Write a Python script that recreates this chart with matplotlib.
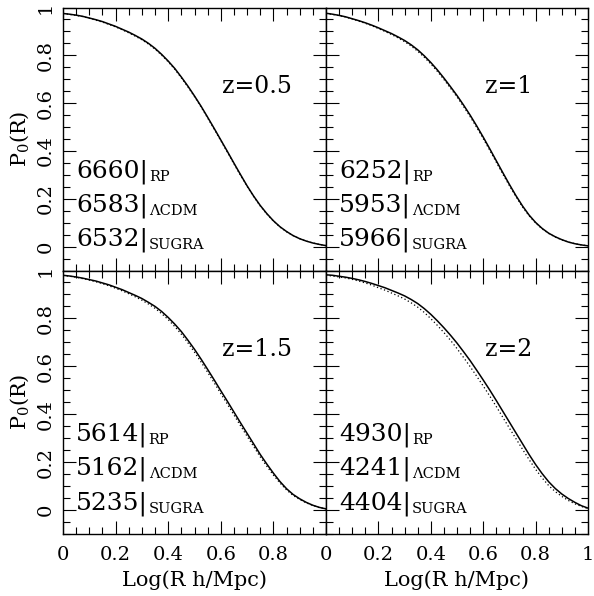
import matplotlib
matplotlib.use('Agg')
import matplotlib.pyplot as plt
from matplotlib.ticker import MultipleLocator, FixedLocator

plt.rcParams['font.family'] = 'DejaVu Serif'
plt.rcParams['mathtext.default'] = 'regular'

# void probability P0(R) against log radius, sampled every 0.025
logR = [0.000, 0.025, 0.050, 0.075, 0.100, 0.125, 0.150, 0.175, 0.200, 0.225,
        0.250, 0.275, 0.300, 0.325, 0.350, 0.375, 0.400, 0.425, 0.450, 0.475,
        0.500, 0.525, 0.550, 0.575, 0.600, 0.625, 0.650, 0.675, 0.700, 0.725,
        0.750, 0.775, 0.800, 0.825, 0.850, 0.875, 0.900, 0.925, 0.950, 0.975,
        1.000]

rp_z05 = [0.975, 0.972, 0.968, 0.963, 0.956, 0.949, 0.941, 0.931, 0.921, 0.909,
          0.897, 0.883, 0.868, 0.850, 0.829, 0.804, 0.776, 0.745, 0.709, 0.671,
          0.630, 0.587, 0.541, 0.494, 0.446, 0.398, 0.349, 0.301, 0.254, 0.211,
          0.172, 0.138, 0.108, 0.083, 0.063, 0.046, 0.033, 0.023, 0.015, 0.009,
          0.004]
lcdm_z05 = [0.975, 0.971, 0.967, 0.962, 0.955, 0.947, 0.939, 0.929, 0.919, 0.907,
            0.894, 0.880, 0.865, 0.847, 0.826, 0.801, 0.773, 0.742, 0.706, 0.668,
            0.627, 0.584, 0.538, 0.491, 0.443, 0.395, 0.346, 0.298, 0.252, 0.209,
            0.170, 0.136, 0.107, 0.082, 0.062, 0.046, 0.033, 0.023, 0.015, 0.009,
            0.004]

rp_z1 = [0.976, 0.972, 0.967, 0.961, 0.953, 0.945, 0.936, 0.926, 0.915, 0.903,
         0.891, 0.877, 0.862, 0.844, 0.823, 0.798, 0.770, 0.739, 0.705, 0.669,
         0.632, 0.592, 0.550, 0.505, 0.458, 0.409, 0.359, 0.309, 0.260, 0.213,
         0.170, 0.132, 0.101, 0.076, 0.056, 0.041, 0.029, 0.019, 0.012, 0.007,
         0.003]
lcdm_z1 = [0.975, 0.971, 0.966, 0.960, 0.952, 0.943, 0.934, 0.924, 0.912, 0.900,
           0.887, 0.873, 0.857, 0.839, 0.817, 0.792, 0.764, 0.733, 0.699, 0.663,
           0.626, 0.586, 0.544, 0.499, 0.452, 0.403, 0.353, 0.303, 0.255, 0.209,
           0.166, 0.129, 0.099, 0.074, 0.055, 0.040, 0.028, 0.019, 0.012, 0.007,
           0.003]

rp_z15 = [0.980, 0.977, 0.973, 0.968, 0.962, 0.956, 0.948, 0.940, 0.930, 0.920,
          0.908, 0.896, 0.883, 0.867, 0.850, 0.829, 0.804, 0.776, 0.745, 0.709,
          0.671, 0.630, 0.587, 0.543, 0.498, 0.454, 0.409, 0.364, 0.320, 0.276,
          0.232, 0.192, 0.154, 0.119, 0.089, 0.065, 0.047, 0.032, 0.020, 0.011,
          0.005]
lcdm_z15 = [0.979, 0.976, 0.972, 0.966, 0.960, 0.953, 0.945, 0.936, 0.926, 0.915,
            0.903, 0.890, 0.876, 0.860, 0.842, 0.820, 0.795, 0.766, 0.734, 0.698,
            0.659, 0.618, 0.575, 0.531, 0.486, 0.442, 0.397, 0.352, 0.308, 0.265,
            0.222, 0.183, 0.146, 0.113, 0.084, 0.061, 0.044, 0.030, 0.019, 0.010,
            0.005]

rp_z2 = [0.982, 0.980, 0.976, 0.972, 0.967, 0.961, 0.954, 0.946, 0.937, 0.928,
         0.917, 0.906, 0.894, 0.879, 0.862, 0.841, 0.817, 0.790, 0.761, 0.730,
         0.697, 0.661, 0.624, 0.584, 0.543, 0.501, 0.457, 0.412, 0.367, 0.322,
         0.277, 0.232, 0.190, 0.152, 0.118, 0.090, 0.067, 0.048, 0.032, 0.018,
         0.008]
lcdm_z2 = [0.980, 0.977, 0.973, 0.969, 0.963, 0.956, 0.948, 0.939, 0.928, 0.918,
           0.906, 0.894, 0.881, 0.865, 0.847, 0.825, 0.799, 0.771, 0.741, 0.709,
           0.674, 0.637, 0.599, 0.559, 0.518, 0.476, 0.432, 0.387, 0.342, 0.298,
           0.254, 0.211, 0.170, 0.134, 0.102, 0.077, 0.057, 0.040, 0.026, 0.015,
           0.006]

z_labels = ['z=0.5', 'z=1', 'z=1.5', 'z=2']
n_rp = [6660, 6252, 5614, 4930]
n_lcdm = [6583, 5953, 5162, 4241]
n_sugra = [6532, 5966, 5235, 4404]
model_names = ['RP', 'ΛCDM', 'SUGRA']

rp_curves = [rp_z05, rp_z1, rp_z15, rp_z2]
lcdm_curves = [lcdm_z05, lcdm_z1, lcdm_z15, lcdm_z2]

fig = plt.figure(figsize=(5.94, 5.96), dpi=100)

W, H = 594.0, 596.0
x0, xm, x1 = 63 / W, 326 / W, 588 / W
y_top, y_mid, y_bot = 1 - 7.5 / H, 1 - 270.5 / H, 1 - 534 / H
boxes = [
    [x0, y_mid, xm - x0, y_top - y_mid],
    [xm, y_mid, x1 - xm, y_top - y_mid],
    [x0, y_bot, xm - x0, y_mid - y_bot],
    [xm, y_bot, x1 - xm, y_mid - y_bot],
]

for i, box in enumerate(boxes):
    ax = fig.add_axes(box)
    ax.plot(logR, rp_curves[i], color='black', lw=1.1)
    ax.plot(logR, lcdm_curves[i], color='black', lw=0.9, linestyle=(0, (1, 2)))
    ax.set_xlim(0, 1)
    ax.set_ylim(-0.1, 1.0)

    ax.xaxis.set_minor_locator(MultipleLocator(0.05))
    ax.yaxis.set_minor_locator(MultipleLocator(0.05))
    ax.yaxis.set_major_locator(FixedLocator([0, 0.2, 0.4, 0.6, 0.8, 1.0]))
    if i % 2 == 0:
        ax.xaxis.set_major_locator(FixedLocator([0, 0.2, 0.4, 0.6, 0.8]))
    else:
        ax.xaxis.set_major_locator(FixedLocator([0, 0.2, 0.4, 0.6, 0.8, 1.0]))
    ax.tick_params(which='both', direction='in', top=True, right=True,
                   width=0.8, color='black')
    ax.tick_params(which='major', length=9.5)
    ax.tick_params(which='minor', length=5)
    ax.tick_params(axis='x', labelsize=14, pad=9)
    ax.tick_params(axis='y', labelsize=14, pad=6, labelrotation=90)
    for lbl in ax.get_yticklabels():
        lbl.set_va('center')
    ax.xaxis.set_major_formatter(plt.FuncFormatter(lambda v, p: '%g' % v))
    ax.yaxis.set_major_formatter(plt.FuncFormatter(lambda v, p: '%g' % v))
    for sp in ax.spines.values():
        sp.set_linewidth(1.0)

    if i < 2:
        ax.set_xticklabels([])
    else:
        ax.set_xlabel('Log(R h/Mpc)', fontsize=15, labelpad=4)
    if i % 2 == 1:
        ax.set_yticklabels([])
    else:
        ax.set_ylabel('P$_0$(R)', fontsize=15, labelpad=4)

    ax.text(0.605, 0.67, z_labels[i], fontsize=17, ha='left', va='center')

    # cluster counts per model, with the model name as a subscript
    counts = [n_rp[i], n_lcdm[i], n_sugra[i]]
    for k, (n, name) in enumerate(zip(counts, model_names)):
        t = ax.text(0.05, 0.29 - 0.143 * k, '%d|' % n, fontsize=18,
                    ha='left', va='baseline')
        ax.annotate(name, xy=(1, 0), xycoords=t, xytext=(0.5, 0),
                    textcoords='offset points', fontsize=10.5,
                    ha='left', va='bottom')

fig.savefig('out.png', dpi=100)
